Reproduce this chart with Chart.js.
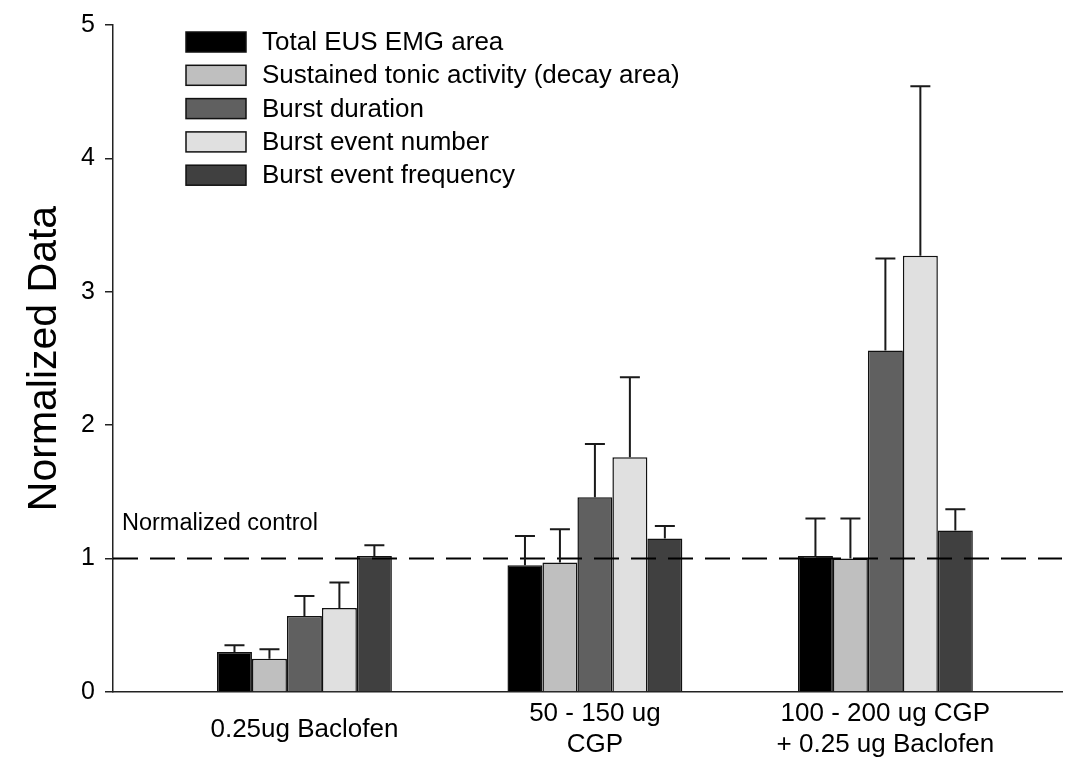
<!DOCTYPE html>
<html>
<head>
<meta charset="utf-8">
<script src="https://cdn.jsdelivr.net/npm/chart.js@4.4.1/dist/chart.umd.min.js"></script>
<style>
html,body{margin:0;padding:0;background:#fff;}
canvas{display:block;}
</style>
</head>
<body>
<canvas id="c" width="1067" height="769"></canvas>
<script>
// ---- data ----
const categories = ['0.25ug Baclofen', ['50 - 150 ug', 'CGP'], ['100 - 200 ug CGP', '+ 0.25 ug Baclofen']];
const seriesNames = ['Total EUS EMG area', 'Sustained tonic activity (decay area)', 'Burst duration', 'Burst event number', 'Burst event frequency'];
const totalArea      = [0.30, 0.95, 1.02];
const sustainedTonic = [0.25, 0.97, 1.00];
const burstDuration  = [0.57, 1.46, 2.56];
const burstNumber    = [0.63, 1.76, 3.27];
const burstFrequency = [1.02, 1.15, 1.21];
const totalAreaErr      = [0.05, 0.22, 0.28];
const sustainedTonicErr = [0.07, 0.25, 0.30];
const burstDurationErr  = [0.15, 0.40, 0.69];
const burstNumberErr    = [0.19, 0.60, 1.27];
const burstFrequencyErr = [0.08, 0.095, 0.16];
const yTicks = [0, 1, 2, 3, 4, 5];
const controlLevel = 1;
const controlLabel = 'Normalized control';
const yTitle = 'Normalized Data';

const FONT = "'Liberation Sans', Arial, sans-serif";
const fills = ['#000000', '#bfbfbf', '#606060', '#e0e0e0', '#404040'];
const values = [totalArea, sustainedTonic, burstDuration, burstNumber, burstFrequency];
const errors = [totalAreaErr, sustainedTonicErr, burstDurationErr, burstNumberErr, burstFrequencyErr];

const X_MIN = -0.659, X_MAX = 2.608;

const datasets = values.map((vals, i) => ({
  type: 'bar',
  label: seriesNames[i],
  data: vals.map((v, j) => ({x: j, y: v})),
  errors: errors[i],
  backgroundColor: fills[i],
  borderColor: '#111',
  borderWidth: 1.5,
  borderSkipped: 'bottom',
  categoryPercentage: 0.602,
  barPercentage: 1.0,
  order: 2
}));
datasets.push({
  type: 'line',
  label: '__control',
  data: [{x: X_MIN, y: controlLevel}, {x: X_MAX, y: controlLevel}],
  borderColor: '#000',
  borderWidth: 2,
  borderDash: [25, 12],
  pointRadius: 0,
  fill: false,
  order: 0
});

const errorBars = {
  id: 'errorBars',
  afterDatasetsDraw(chart) {
    const ctx = chart.ctx, ys = chart.scales.y;
    ctx.save();
    ctx.strokeStyle = '#1a1a1a';
    ctx.lineWidth = 2;
    chart.data.datasets.forEach((ds, di) => {
      if (!ds.errors) return;
      const meta = chart.getDatasetMeta(di);
      meta.data.forEach((bar, j) => {
        const v = ds.data[j].y, e = ds.errors[j];
        const yTop = ys.getPixelForValue(v + e);
        const yBar = bar.y;
        ctx.beginPath();
        ctx.moveTo(bar.x, yBar);
        ctx.lineTo(bar.x, yTop);
        ctx.moveTo(bar.x - 10, yTop);
        ctx.lineTo(bar.x + 10, yTop);
        ctx.stroke();
      });
    });
    ctx.restore();
  }
};

const extras = {
  id: 'extras',
  afterDraw(chart) {
    const ctx = chart.ctx, ys = chart.scales.y, area = chart.chartArea;
    ctx.save();
    // control label
    ctx.fillStyle = '#000';
    ctx.font = '23.5px ' + FONT;
    ctx.textBaseline = 'middle';
    ctx.textAlign = 'left';
    ctx.fillText(controlLabel, area.left + 9, ys.getPixelForValue(controlLevel) - 35);
    // legend
    const x0 = 186, sw = 60, sh = 20, rowH = 33.3, y0 = 42;
    ctx.font = '26px ' + FONT;
    chart.data.datasets.forEach((ds, i) => {
      if (ds.type !== 'bar') return;
      const cy = y0 + i * rowH;
      ctx.fillStyle = ds.backgroundColor;
      ctx.fillRect(x0, cy - sh / 2, sw, sh);
      ctx.strokeStyle = '#111';
      ctx.lineWidth = 1.5;
      ctx.strokeRect(x0, cy - sh / 2, sw, sh);
      ctx.fillStyle = '#000';
      ctx.fillText(ds.label, 262, cy + 1);
    });
    ctx.restore();
  }
};

new Chart(document.getElementById('c'), {
  data: {datasets},
  options: {
    responsive: false,
    animation: false,
    layout: {padding: {top: 22, right: 5, left: 0, bottom: 0}},
    plugins: {legend: {display: false}, tooltip: {enabled: false}},
    scales: {
      x: {
        type: 'linear',
        offset: false,
        min: X_MIN,
        max: X_MAX,
        afterBuildTicks: (s) => { s.ticks = categories.map((c, i) => ({value: i})); },
        afterFit: (s) => { s.height = 77; },
        grid: {display: false, offset: false},
        border: {display: true, color: '#222', width: 1.5},
        ticks: {
          color: '#000',
          font: {family: FONT, size: 26},
          padding: 14,
          crossAlign: 'center',
          maxRotation: 0,
          autoSkip: false,
          callback: (v) => categories[Math.round(v)]
        }
      },
      y: {
        min: 0,
        max: 5,
        afterBuildTicks: (s) => { s.ticks = yTicks.map(v => ({value: v})); },
        afterFit: (s) => { s.width = 113; },
        grid: {drawOnChartArea: false, drawTicks: true, tickLength: 8, color: '#222', lineWidth: 1.5},
        border: {display: true, color: '#222', width: 1.5},
        ticks: {color: '#000', font: {family: FONT, size: 25}, padding: 10},
        title: {display: true, text: yTitle, color: '#000', font: {family: FONT, size: 41}, padding: {top: 20, bottom: 0}}
      }
    }
  },
  plugins: [errorBars, extras]
});
</script>
</body>
</html>
